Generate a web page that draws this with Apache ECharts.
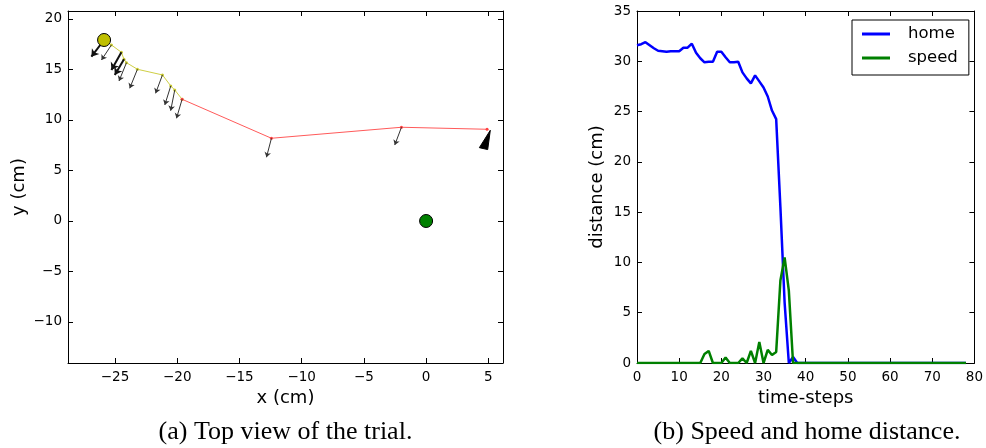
<!DOCTYPE html>
<html>
<head>
<meta charset="utf-8">
<script src="https://cdn.jsdelivr.net/npm/echarts@6.0.0/dist/echarts.min.js"></script>
<style>
  html, body { margin: 0; padding: 0; background: #fff; }
  #chart { width: 986px; height: 448px; }
</style>
</head>
<body>
<div id="chart"></div>
<script>
// ---------- data: left panel (top view, cm) ----------
const startPoint = [[-25.88, 17.92]];
const homePoint = [[0, 0]];
const yellowPath = [
  [-25.88, 17.92], [-25.29, 17.43], [-24.49, 16.70], [-24.28, 16.01], [-24.08, 15.67],
  [-23.20, 15.02], [-21.19, 14.46], [-20.52, 13.37], [-20.20, 12.97], [-19.61, 12.05]
];
const redPath = [
  [-19.61, 12.05], [-12.43, 8.19], [-1.98, 9.28], [4.90, 9.08]
];
// arrows: [x0, y0, x1, y1]
const thickArrows = [
  [-25.88, 17.92, -26.90, 16.27],
  [-24.49, 16.70, -25.29, 14.95],
  [-24.28, 16.01, -25.02, 14.46]
];
const thinArrows = [
  [-25.29, 17.43, -26.09, 15.94],
  [-24.08, 15.67, -24.68, 13.86],
  [-23.20, 15.02, -23.82, 13.14],
  [-21.19, 14.46, -21.74, 12.64],
  [-20.52, 13.37, -21.00, 11.49],
  [-20.20, 12.97, -20.53, 10.92],
  [-19.61, 12.05, -20.06, 10.17],
  [-12.43, 8.19, -12.83, 6.31],
  [-1.98, 9.28, -2.52, 7.52]
];
const wedge = [[5.16, 8.98], [4.28, 7.26], [4.95, 7.07]];
const leftXTicks = [-25, -20, -15, -10, -5, 0, 5];
const leftYTicks = [-10, -5, 0, 5, 10, 15, 20];

// ---------- data: right panel (time-steps) ----------
const home = [
  31.6, 31.7, 31.9, 31.6, 31.3, 31.05, 31.0, 30.95, 31.0, 31.0,
  31.0, 31.35, 31.35, 31.75, 30.85, 30.3, 29.9, 29.95, 29.95, 30.95,
  30.95, 30.4, 29.9, 29.9, 29.95, 28.9, 28.3, 27.8, 28.6, 28.0,
  27.4, 26.5, 25.1, 24.25, 15.5, 6.0, 0, 0.6, 0, 0,
  0, 0, 0, 0, 0, 0, 0, 0, 0, 0,
  0, 0, 0, 0, 0, 0, 0, 0, 0, 0,
  0, 0, 0, 0, 0, 0, 0, 0, 0, 0,
  0, 0, 0, 0, 0, 0, 0, 0, 0
];
const speed = [
  0, 0, 0, 0, 0, 0, 0, 0, 0, 0,
  0, 0, 0, 0, 0, 0, 0.9, 1.2, 0, 0,
  0, 0.55, 0, 0, 0, 0.45, 0, 1.2, 0, 2.1,
  0, 1.3, 0.8, 1.1, 8.2, 10.5, 7.2, 0, 0, 0,
  0, 0, 0, 0, 0, 0, 0, 0, 0, 0,
  0, 0, 0, 0, 0, 0, 0, 0, 0, 0,
  0, 0, 0, 0, 0, 0, 0, 0, 0, 0,
  0, 0, 0, 0, 0, 0, 0, 0, 0
];
const seriesNames = ['home', 'speed'];
const captions = ['(a) Top view of the trial.', '(b) Speed and home distance.'];

// ---------- build ----------
const FONT = 'DejaVu Sans';
const minus = v => String(v).replace('-', '\u2212');
const toPairs = arr => arr.map((v, i) => [i, v]);
const toCoords = arr => arr.map(a => ({ coords: [[a[0], a[1]], [a[2], a[3]]] }));

const tick = (vals) => ({ show: true, inside: true, length: 5, lineStyle: { color: '#000', width: 1 }, customValues: vals });
const line = { show: true, onZero: false, lineStyle: { color: '#000', width: 1 } };
const lbl = (vals, margin) => ({
  show: true, customValues: vals, formatter: minus, fontFamily: FONT, fontSize: 13.5,
  color: '#000', margin: margin
});
const nameStyle = { fontFamily: FONT, fontSize: 18, color: '#000' };

const chart = echarts.init(document.getElementById('chart'), null, { renderer: 'canvas' });
chart.setOption({
  animation: false,
  backgroundColor: '#fff',
  grid: [
    { left: 68, top: 11, width: 435, height: 352 },
    { left: 637, top: 11, width: 340, height: 352 }
  ],
  xAxis: [
    { gridIndex: 0, type: 'value', position: 'bottom', min: -28.78, max: 6.18,
      axisLine: line, axisTick: tick(leftXTicks), axisLabel: lbl(leftXTicks, 7), splitLine: { show: false },
      name: 'x (cm)', nameLocation: 'middle', nameGap: 26, nameTextStyle: nameStyle },
    { gridIndex: 0, type: 'value', position: 'top', min: -28.78, max: 6.18,
      axisLine: line, axisTick: tick(leftXTicks), axisLabel: { show: false }, splitLine: { show: false } },
    { gridIndex: 1, type: 'value', position: 'bottom', min: 0, max: 80, interval: 10,
      axisLine: line, axisTick: tick(), axisLabel: lbl(undefined, 7), splitLine: { show: false },
      name: 'time-steps', nameLocation: 'middle', nameGap: 26, nameTextStyle: nameStyle },
    { gridIndex: 1, type: 'value', position: 'top', min: 0, max: 80, interval: 10,
      axisLine: line, axisTick: tick(), axisLabel: { show: false }, splitLine: { show: false } }
  ],
  yAxis: [
    { gridIndex: 0, type: 'value', position: 'left', min: -14.06, max: 20.79,
      axisLine: line, axisTick: tick(leftYTicks), axisLabel: lbl(leftYTicks, 6), splitLine: { show: false },
      name: 'y (cm)', nameLocation: 'middle', nameGap: 40, nameTextStyle: nameStyle },
    { gridIndex: 0, type: 'value', position: 'right', min: -14.06, max: 20.79,
      axisLine: line, axisTick: tick(leftYTicks), axisLabel: { show: false }, splitLine: { show: false } },
    { gridIndex: 1, type: 'value', position: 'left', min: 0, max: 35, interval: 5,
      axisLine: line, axisTick: tick(), axisLabel: lbl(undefined, 6), splitLine: { show: false },
      name: 'distance (cm)', nameLocation: 'middle', nameGap: 31, nameTextStyle: nameStyle },
    { gridIndex: 1, type: 'value', position: 'right', min: 0, max: 35, interval: 5,
      axisLine: line, axisTick: tick(), axisLabel: { show: false }, splitLine: { show: false } }
  ],
  legend: {
    data: seriesNames, orient: 'vertical', left: 852, top: 20,
    icon: 'rect', itemWidth: 28, itemHeight: 3, itemGap: 4,
    padding: [4, 11, 7, 10], borderColor: '#000', borderWidth: 1, borderRadius: 0,
    backgroundColor: '#fff',
    textStyle: { fontFamily: FONT, fontSize: 16.5, color: '#000', lineHeight: 20, padding: [0, 0, 0, 13] }
  },
  graphic: [
    { type: 'text', x: 285.5, y: 432, style: { text: captions[0], font: '26px "Liberation Serif"', fill: '#000', textAlign: 'center', textVerticalAlign: 'middle' } },
    { type: 'text', x: 807, y: 432, style: { text: captions[1], font: '26px "Liberation Serif"', fill: '#000', textAlign: 'center', textVerticalAlign: 'middle' } }
  ],
  series: [
    { type: 'line', xAxisIndex: 0, yAxisIndex: 0, data: yellowPath, silent: true,
      lineStyle: { color: '#cfcf45', width: 1 }, symbol: 'circle', symbolSize: 3,
      itemStyle: { color: '#c8c830' }, z: 3 },
    { type: 'line', xAxisIndex: 0, yAxisIndex: 0, data: redPath, silent: true,
      lineStyle: { color: '#ff5a5a', width: 1 }, symbol: 'circle', symbolSize: 3,
      itemStyle: { color: '#ff4040' }, z: 3 },
    { type: 'lines', coordinateSystem: 'cartesian2d', xAxisIndex: 0, yAxisIndex: 0, silent: true,
      data: toCoords(thickArrows), symbol: ['none', 'arrow'], symbolSize: 7,
      lineStyle: { color: '#111', width: 2, opacity: 1 }, z: 4 },
    { type: 'lines', coordinateSystem: 'cartesian2d', xAxisIndex: 0, yAxisIndex: 0, silent: true,
      data: toCoords(thinArrows), symbol: ['none', 'arrow'], symbolSize: 5,
      lineStyle: { color: '#333', width: 1, opacity: 1 }, z: 4 },
    { type: 'custom', coordinateSystem: 'cartesian2d', xAxisIndex: 0, yAxisIndex: 0, silent: true,
      data: [wedge[0]], z: 4,
      renderItem: (params, api) => ({
        type: 'polygon',
        shape: { points: wedge.map(p => api.coord(p)) },
        style: { fill: '#000', stroke: '#000', lineWidth: 1 }
      }) },
    { type: 'scatter', xAxisIndex: 0, yAxisIndex: 0, data: startPoint, symbolSize: 13, silent: true,
      itemStyle: { color: '#bfbf00', borderColor: '#000', borderWidth: 1, opacity: 1 }, z: 6 },
    { type: 'scatter', xAxisIndex: 0, yAxisIndex: 0, data: homePoint, symbolSize: 13, silent: true,
      itemStyle: { color: '#008000', borderColor: '#000', borderWidth: 1, opacity: 1 }, z: 6 },
    { name: seriesNames[0], type: 'line', xAxisIndex: 2, yAxisIndex: 2, data: toPairs(home),
      showSymbol: false, symbol: 'none', lineStyle: { color: '#0000ff', width: 2.5 }, itemStyle: { color: '#0000ff' }, z: 3 },
    { name: seriesNames[1], type: 'line', xAxisIndex: 2, yAxisIndex: 2, data: toPairs(speed),
      showSymbol: false, symbol: 'none', lineStyle: { color: '#008000', width: 2.5 }, itemStyle: { color: '#008000' }, z: 4 }
  ]
});
</script>
</body>
</html>
